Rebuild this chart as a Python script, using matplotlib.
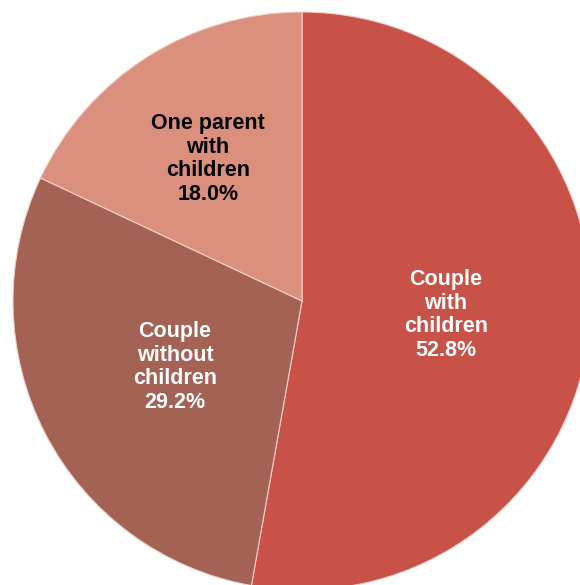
import matplotlib.pyplot as plt

# Datos del grafico
categorias = ['Couple\nwith\nchildren', 'Couple\nwithout\nchildren', 'One parent\nwith\nchildren']
porcentajes = [52.8, 29.2, 18.0]
colores = ['#C85248', '#A46254', '#DB8F7D']
color_texto = ['white', 'white', 'black']
# posiciones de las etiquetas (en pixeles)
pos_etiquetas = [(446, 270), (175, 218), (208, 426)]

plt.rcParams['font.family'] = ['Liberation Sans', 'DejaVu Sans']

fig = plt.figure(figsize=(5.8, 5.85), dpi=100)
ax = fig.add_axes([0, 0, 1, 1])

ax.pie(porcentajes, colors=colores, startangle=90, counterclock=False,
       radius=289, center=(302, 284),
       wedgeprops={'edgecolor': '#F0D0C8', 'linewidth': 0.8})

for cat, pct, c, (x, y) in zip(categorias, porcentajes, color_texto, pos_etiquetas):
    ax.text(x, y, f'{cat}\n{pct:.1f}%', ha='center', va='center', color=c,
            fontsize=15.5, fontweight='bold', linespacing=1.17)

ax.set_xlim(0, 580)
ax.set_ylim(0, 585)
ax.set_aspect('equal')
ax.axis('off')

plt.savefig('out.png', dpi=100)
